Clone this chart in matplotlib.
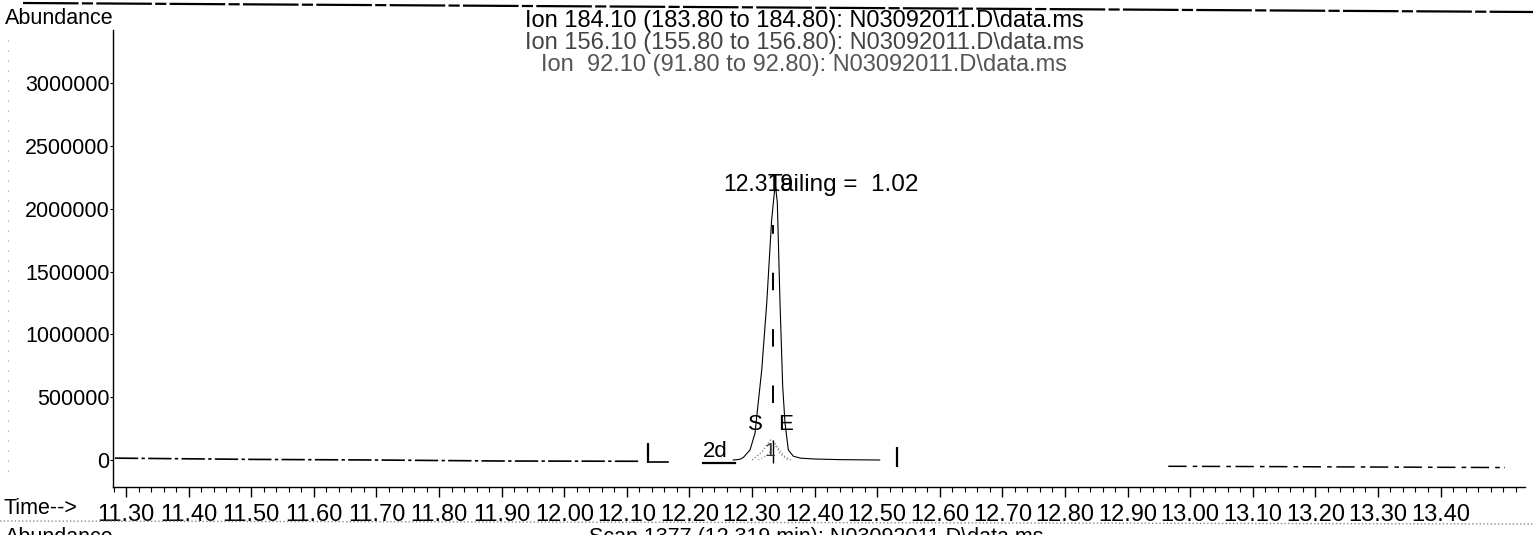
import matplotlib
matplotlib.use("Agg")
import matplotlib.pyplot as plt
from matplotlib.lines import Line2D
from matplotlib.ticker import MultipleLocator, FormatStrFormatter

plt.rcParams['font.family'] = ['Liberation Sans', 'DejaVu Sans']

# ion 184.10 trace (time in min, abundance)
peak_time = [12.270, 12.280, 12.2861, 12.2968, 12.3048, 12.3075, 12.3155, 12.3235,
             12.3313, 12.3371, 12.3404, 12.3447, 12.3490, 12.3527, 12.3580, 12.3660,
             12.377, 12.40, 12.44, 12.504]
peak_abund = [0, 5000, 20000, 80000, 215000, 345000, 717000, 1250000,
              1910000, 2200000, 2050000, 1250000, 584000, 295000, 80000, 30000,
              15000, 8000, 3000, 0]

# qualifier ions (156.10 and 92.10), small grey dotted peaks
q1_time = [12.300, 12.315, 12.325, 12.330, 12.336, 12.345, 12.358]
q1_abund = [0, 60000, 130000, 160000, 140000, 50000, 0]
q2_time = [12.310, 12.325, 12.333, 12.337, 12.343, 12.352, 12.362]
q2_abund = [0, 40000, 95000, 115000, 90000, 30000, 0]

# baseline pieces around the peak
base_left_time = [11.282, 11.50, 11.70, 11.90, 12.12]
base_left_abund = [15000, 5000, 0, -8000, -10000]
base_mid_time = [12.135, 12.165]
base_mid_abund = [-15000, -15000]
base_2d_time = [12.222, 12.273]
base_2d_abund = [-24000, -24000]
base_right_time = [12.965, 13.10, 13.30, 13.503]
base_right_abund = [-50000, -52000, -56000, -60000]

# integration markers
marker_time = [12.134, 12.532]
marker_lo = [-20000, -55000]
marker_hi = [135000, 103000]
apex_time = 12.334

ion_titles = ["Ion 184.10 (183.80 to 184.80): N03092011.D\\data.ms",
              "Ion 156.10 (155.80 to 156.80): N03092011.D\\data.ms",
              "Ion  92.10 (91.80 to 92.80): N03092011.D\\data.ms"]
title_colors = ["black", "#444444", "#555555"]

fig = plt.figure(figsize=(15.33, 5.35), dpi=100)
ax = fig.add_axes([0.0737, 0.0897, 0.9211, 0.8542])

ax.plot(peak_time, peak_abund, color="black", lw=0.8)
ax.plot(q1_time, q1_abund, color="#777777", lw=0.9, ls=":")
ax.plot(q2_time, q2_abund, color="#999999", lw=0.9, ls=":")
ax.plot(base_left_time, base_left_abund, color="black", lw=1.2, ls=(0, (14, 2, 2, 2)))
ax.plot(base_mid_time, base_mid_abund, color="black", lw=1.2)
ax.plot(base_2d_time, base_2d_abund, color="black", lw=1.6)
ax.plot(base_right_time, base_right_abund, color="black", lw=1.1, ls=(0, (12, 4, 3, 3)))
ax.vlines(marker_time, marker_lo, marker_hi, color="black", lw=1.6)
ax.vlines([apex_time], [-24000], [160000], color="black", lw=1.0)
ax.plot([apex_time, apex_time], [450000, 1870000], color="black", lw=1.4, ls=(0, (9, 20)))

# peak annotations
ax.text(12.310, 2190000, "12.319", fontsize=16.5, ha="center", va="center")
ax.text(12.3256, 2190000, "Tailing =  1.02", fontsize=17.5, ha="left", va="center")
ax.text(12.305, 279000, "S", fontsize=16, ha="center", va="center")
ax.text(12.354, 279000, "E", fontsize=16, ha="center", va="center")
ax.text(12.329, 64000, "1", fontsize=14, ha="center", va="center", color="#333333")
ax.text(12.241, 64000, "2d", fontsize=16, ha="center", va="center")

ax.set_xlim(11.279, 13.535)
ax.set_ylim(-215000, 3424000)
ax.xaxis.set_minor_locator(MultipleLocator(0.02))
ax.xaxis.set_major_formatter(FormatStrFormatter("%.2f"))
ax.yaxis.set_major_formatter(FormatStrFormatter("%d"))
ax.set_yticks([0, 500000, 1000000, 1500000, 2000000, 2500000, 3000000])
ax.set_xticks([11.3 + 0.1 * i for i in range(22)])
ax.tick_params(axis="x", which="major", direction="out", length=7, width=1, labelsize=17, pad=5)
ax.tick_params(axis="x", which="minor", direction="out", length=3.5, width=0.8)
ax.tick_params(axis="y", direction="out", length=2, width=0.8, labelsize=15.5, pad=0.5)
for s in ["top", "right"]:
    ax.spines[s].set_visible(False)
ax.spines["left"].set_linewidth(1.0)
ax.spines["bottom"].set_linewidth(1.0)

# header and page text
fig.text(0.003, 1 - 18 / 535, "Abundance", fontsize=15.5, ha="left", va="center")
for i, (t, c) in enumerate(zip(ion_titles, title_colors)):
    fig.text(0.5245, 1 - (21 + 22 * i) / 535, t, fontsize=17, ha="center", va="center", color=c)
fig.text(0.002, 1 - 508 / 535, "Time-->", fontsize=15.5, ha="left", va="center")
fig.text(0.003, 1 - 527 / 535, "Abundance", fontsize=15.5, ha="left", va="top")
fig.text(0.384, 1 - 527 / 535, "Scan 1377 (12.319 min): N03092011.D\\data.ms", fontsize=15.5, ha="left", va="top")

# scanned page rules
fig.add_artist(Line2D([0.015, 1.0], [1 - 3 / 535, 1 - 12 / 535], transform=fig.transFigure,
                      color="black", lw=1.6, ls=(0, (25, 1.5, 5, 1.5))))
fig.add_artist(Line2D([0.0, 1.0], [1 - 521 / 535, 1 - 524 / 535], transform=fig.transFigure,
                      color="#888888", lw=1.0, ls=":"))
fig.add_artist(Line2D([0.005, 0.005], [1 - 40 / 535, 1 - 480 / 535], transform=fig.transFigure,
                      color="#999999", lw=0.8, ls=(0, (1, 8))))

fig.savefig("out.png", dpi=100)
